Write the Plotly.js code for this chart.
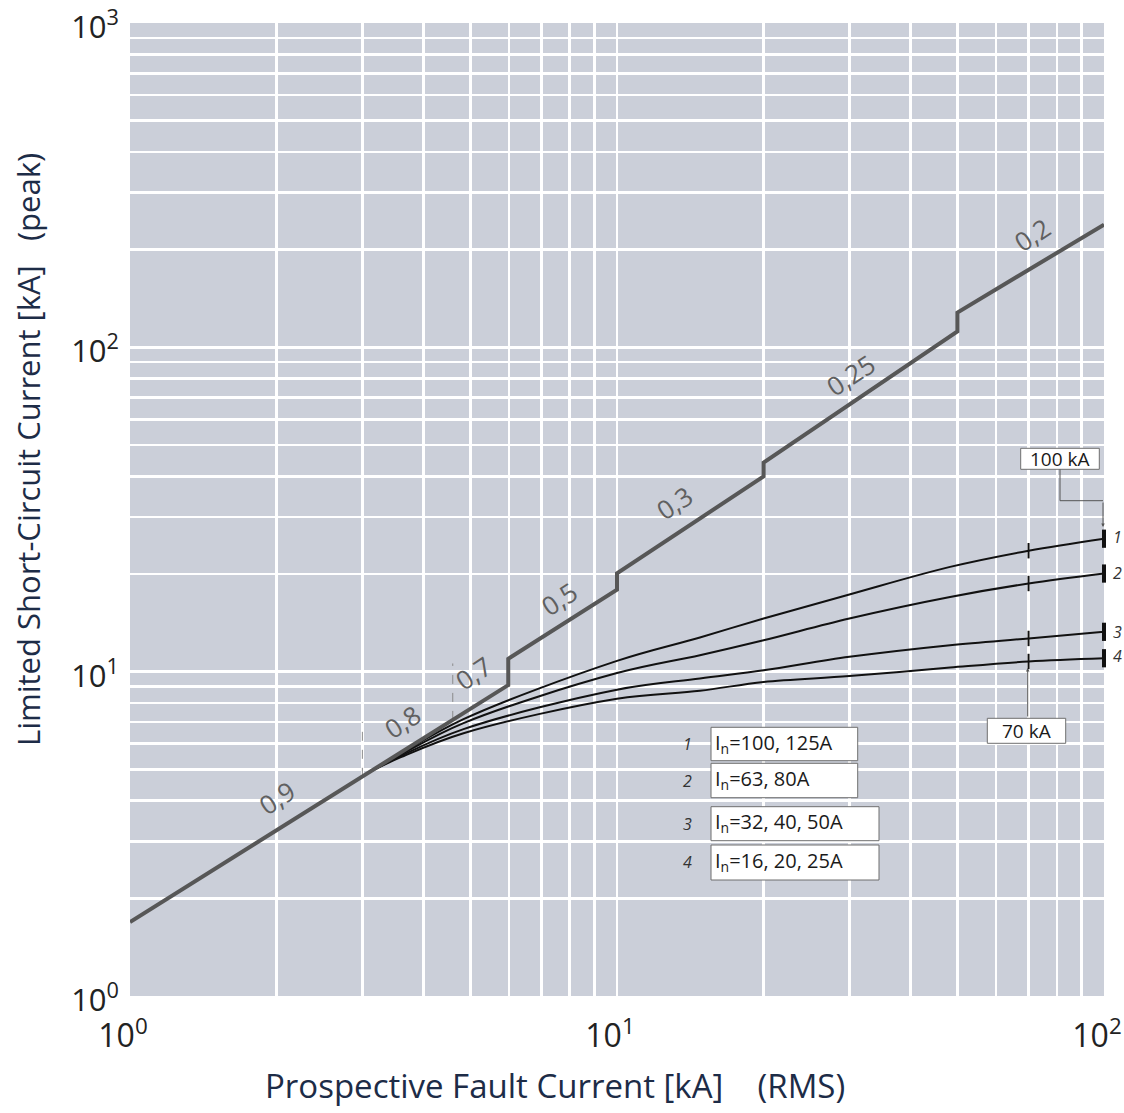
<!DOCTYPE html>
<html>
<head>
<meta charset="utf-8">
<script src="https://cdn.plot.ly/plotly-3.0.1.min.js"></script>
<style>
  html, body { margin: 0; padding: 0; background: #ffffff; }
  #chart { width: 1124px; height: 1113px; }
</style>
</head>
<body>
<div id="chart"></div>
<script>
// ---------------- data ----------------
// Main limiting curve (peak = n * prospective), with steps where the power factor changes
const mainX = [1, 3, 5.98, 5.98, 10, 10, 20, 20, 50, 50, 100];
const mainY = [1.69, 4.74, 9.09, 10.96, 17.9, 20.1, 40.0, 44.1, 112, 128, 239];

// Power factor labels along the main curve
const pfLabels = ["0,9", "0,8", "0,7", "0,5", "0,3", "0,25", "0,2"];

// Let-through curves for the four rating groups
const curveX = [3.1, 3.6, 4.84, 10, 14.8, 20, 30, 48.3, 70, 100];
const curve1 = [4.9, 5.6, 7.14, 10.8, 12.75, 14.59, 17.3, 21.04, 23.6, 25.7];
const curve2 = [4.9, 5.55, 6.94, 9.9, 11.24, 12.5, 14.59, 17.0, 18.7, 20.07];
const curve3 = [4.9, 5.5, 6.65, 8.8, 9.53, 10.1, 11.11, 12.07, 12.66, 13.27];
const curve4 = [4.9, 5.45, 6.46, 8.25, 8.73, 9.30, 9.69, 10.3, 10.75, 11.0];
const curveIds = ["1", "2", "3", "4"];
const ratingLabels = ["I<sub>n</sub>=100, 125A", "I<sub>n</sub>=63, 80A", "I<sub>n</sub>=32, 40, 50A", "I<sub>n</sub>=16, 20, 25A"];

// Marked breaking capacities
const markX = [70, 100];
const markLabels = ["70 kA", "100 kA"];

// Dashed boundaries of the power-factor zones
const dash1X = [3, 3];
const dash1Y = [4.74, 7.0];
const dash2X = [4.6, 4.6];
const dash2Y = [7.1, 10.6];

// Axis ticks and titles
const xMajor = [1, 10, 100];
const xMajorText = ["10<sup>0</sup>", "10<sup>1</sup>", "10<sup>2</sup>"];
const yMajor = [1, 10, 100, 1000];
const yMajorText = ["10<sup>0</sup>", "10<sup>1</sup>", "10<sup>2</sup>", "10<sup>3</sup>"];
const xGrid = [2, 3, 4, 5, 6, 7, 8, 9, 10, 20, 30, 40, 50, 60, 70, 80, 90];
const yGrid = [2, 3, 4, 5, 6, 7, 8, 9, 10, 20, 30, 40, 50, 60, 70, 80, 90, 100, 200, 300, 400, 500, 600, 700, 800, 900];
const xTitle = "Prospective Fault Current [kA]\u00a0\u00a0\u00a0\u00a0(RMS)";
const yTitle = "Limited Short-Circuit Current [kA]\u00a0\u00a0\u00a0(peak)";

// ---------------- layout geometry ----------------
const W = 1124, H = 1113;
const L = 130, R = 1104, T = 23, B = 996;
const px = v => (v - L) / (R - L);
const py = v => (B - v) / (B - T);
const FONT = "Open Sans, Noto Sans, DejaVu Sans, sans-serif";
const NAVY = "#1d2c47";

const curves = [curve1, curve2, curve3, curve4];
const traces = [];

traces.push({ x: dash1X, y: dash1Y, mode: "lines", line: { color: "#8a8a8a", width: 1, dash: "dash" }, hoverinfo: "skip" });
traces.push({ x: dash2X, y: dash2Y, mode: "lines", line: { color: "#8a8a8a", width: 1, dash: "dash" }, hoverinfo: "skip" });

curves.forEach((c, i) => {
  traces.push({
    x: curveX, y: c, mode: "lines", name: curveIds[i],
    line: { color: "#111111", width: 2, shape: "spline", smoothing: 1 }
  });
});

// tick marks on the curves at 70 kA (thin) and 100 kA (thick)
[0, 1].forEach(k => {
  const xv = markX[k];
  const idx = curveX.indexOf(xv);
  traces.push({
    x: curves.map(() => xv), y: curves.map(c => c[idx]), mode: "markers", cliponaxis: false,
    marker: { symbol: "line-ns", size: k === 0 ? 11 : 13, line: { color: "#111111", width: k === 0 ? 2 : 4 } },
    hoverinfo: "skip"
  });
});

traces.push({ x: mainX, y: mainY, mode: "lines", name: "main", line: { color: "#575757", width: 4 } });

// ---------------- annotations ----------------
const annotations = [];
const A = (o) => Object.assign({ xref: "paper", yref: "paper", xanchor: "center", yanchor: "middle", showarrow: false }, o);

const pfPos = [[276.7, 798.3], [401.7, 721.7], [473.3, 672.7], [559, 599], [674, 502.7], [850.7, 375], [1031.7, 235]];
pfLabels.forEach((t, i) => {
  annotations.push(A({ text: t, x: px(pfPos[i][0]), y: py(pfPos[i][1]), textangle: -33.5,
    font: { family: FONT, size: 26, color: "#606060" } }));
});

// curve numbers at the right end
const endPix = [536.7, 573.3, 631.7, 656];
curves.forEach((c, i) => {
  annotations.push(A({ text: curveIds[i], x: px(1117), y: py(endPix[i]),
    font: { family: FONT, size: 16, color: "#333333", style: "italic" } }));
});

// rating boxes
const shapes = [];
const boxes = [[711, 857.7, 727.3, 760.7], [711, 857.7, 763.3, 797.7], [711, 879, 806.7, 840.7], [711, 879, 845, 880]];
boxes.forEach((b, i) => {
  shapes.push({ type: "rect", xref: "paper", yref: "paper", x0: px(b[0]), x1: px(b[1]), y0: py(b[3]), y1: py(b[2]),
    fillcolor: "#ffffff", line: { color: "#6f6f6f", width: 1 } });
  annotations.push(A({ text: ratingLabels[i], x: px(b[0] + 2), y: py((b[2] + b[3]) / 2 - 1), xanchor: "left",
    font: { family: FONT, size: 20, color: "#1a1a1a" } }));
  annotations.push(A({ text: curveIds[i], x: px(687), y: py((b[2] + b[3]) / 2),
    font: { family: FONT, size: 16, color: "#333333", style: "italic" } }));
});

// 100 kA / 70 kA boxes
const kaBoxes = [[987.3, 1065.7, 718.3, 743.3], [1020.7, 1099.3, 448.3, 469.3]];
kaBoxes.forEach((b, i) => {
  shapes.push({ type: "rect", xref: "paper", yref: "paper", x0: px(b[0]), x1: px(b[1]), y0: py(b[3]), y1: py(b[2]),
    fillcolor: "#ffffff", line: { color: "#6f6f6f", width: 1 } });
  annotations.push(A({ text: markLabels[i], x: px((b[0] + b[1]) / 2), y: py((b[2] + b[3]) / 2),
    font: { family: FONT, size: 19, color: "#1a1a1a" } }));
});
// leader for 100 kA
shapes.push({ type: "line", xref: "paper", yref: "paper", x0: px(1060), x1: px(1060), y0: py(469.3), y1: py(500.7), line: { color: "#555555", width: 1 } });
shapes.push({ type: "line", xref: "paper", yref: "paper", x0: px(1060), x1: px(1103), y0: py(500.7), y1: py(500.7), line: { color: "#555555", width: 1 } });
annotations.push({ text: "", xref: "paper", yref: "paper", x: px(1103), y: py(527), ax: 0, ay: -26,
  showarrow: true, arrowhead: 2, arrowsize: 0.7, arrowwidth: 1, arrowcolor: "#555555" });
// leader for 70 kA
annotations.push({ text: "", xref: "paper", yref: "paper", x: px(1027.7), y: py(668), ax: 0, ay: 50,
  showarrow: true, arrowhead: 2, arrowsize: 0.7, arrowwidth: 1, arrowcolor: "#555555" });

// axis titles
annotations.push(A({ text: xTitle, x: px(555), y: py(1085), font: { family: FONT, size: 33, color: NAVY } }));
annotations.push(A({ text: yTitle, x: px(28), y: py(450), textangle: -90, font: { family: FONT, size: 31, color: NAVY } }));

const layout = {
  width: W, height: H,
  margin: { l: L, r: W - R, t: T, b: H - B, pad: 0 },
  paper_bgcolor: "#ffffff",
  plot_bgcolor: "#cbcfd9",
  showlegend: false,
  font: { family: FONT, color: "#222222" },
  xaxis: {
    type: "log", range: [0, 2], autorange: false,
    tickmode: "array", tickvals: xMajor, ticktext: xMajorText,
    showgrid: false, zeroline: false, showline: false, ticks: "",
    ticklabelstandoff: 18, ticklabeloverflow: "allow", ticklabelshift: -7,
    tickfont: { family: FONT, size: 32, color: "#222222" },
    minor: { tickmode: "array", tickvals: xGrid, showgrid: true, gridcolor: "#ffffff", gridwidth: 2.6, ticks: "" }
  },
  yaxis: {
    type: "log", range: [0, 3], autorange: false,
    tickmode: "array", tickvals: yMajor, ticktext: yMajorText,
    showgrid: false, zeroline: false, showline: false, ticks: "",
    ticklabelstandoff: 10, ticklabeloverflow: "allow", ticklabelshift: 4,
    tickfont: { family: FONT, size: 31, color: "#222222" },
    minor: { tickmode: "array", tickvals: yGrid, showgrid: true, gridcolor: "#ffffff", gridwidth: 2.6, ticks: "" }
  },
  shapes: shapes,
  annotations: annotations
};

Plotly.newPlot("chart", traces, layout, { displayModeBar: false, staticPlot: true });
</script>
</body>
</html>
